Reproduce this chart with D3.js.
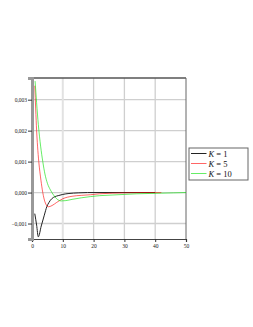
<!DOCTYPE html>
<html>
<head>
<meta charset="utf-8">
<script src="https://cdn.jsdelivr.net/npm/d3@7"></script>
<style>
  body { margin: 0; background: #fff; }
  svg { display: block; }
</style>
</head>
<body>
<div id="chart"></div>
<script>
// values
let xTicks = [0, 10, 20, 30, 40, 50];
let yTicks = [-0.001, 0, 0.001, 0.002, 0.003];

let tK1 = [0.9, 1.5, 2.05, 3, 4, 4.8, 5.5, 6.4, 7.5, 8.5, 10, 12, 15, 18, 25, 40];
let vK1 = [-0.00068, -0.00105, -0.00143, -0.00108, -0.00073, -0.00046, -0.00032, -0.0002, -0.00013, -0.0001, -0.00006, -0.00003, -0.00001, 0, 0, 0];

let tK5 = [0.9, 1.2, 1.5, 1.8, 2.2, 2.9, 3.5, 4.2, 5.3, 6.5, 8, 10, 13, 16, 19, 22, 26, 30, 35, 42];
let vK5 = [0.00345, 0.0027, 0.002, 0.0015, 0.001, 0.0004, 0, -0.0003, -0.00046, -0.00042, -0.00032, -0.0002, -0.00012, -0.00009, -0.00007, -0.00004, -0.00002, -0.00001, 0, 0];

let tK10 = [1, 1.5, 2.05, 2.8, 3.5, 4.2, 5, 6, 7, 8, 9.5, 11, 13, 16, 19, 22, 26, 30, 34, 38, 42, 46, 50];
let vK10 = [0.0036, 0.0029, 0.0022, 0.0015, 0.001, 0.0006, 0.0003, 0.00008, -0.00008, -0.0002, -0.00027, -0.00026, -0.00022, -0.00017, -0.00013, -0.0001, -0.00008, -0.00006, -0.00004, -0.00003, -0.00002, -0.00001, 0];

let seriesNames = ["K = 1", "K = 5", "K = 10"];
let seriesColors = ["#222", "rgba(255,0,0,0.6)", "rgba(0,225,0,0.6)"];

let svgWidth = 253;
let svgHeight = 327;
let margin = { top: 78, right: 67, bottom: 88, left: 32 };
let chartWidth = svgWidth - margin.left - margin.right;
let chartHeight = svgHeight - margin.top - margin.bottom;

let svg = d3.select("#chart")
  .append("svg")
  .attr("width", svgWidth)
  .attr("height", svgHeight);

let chartGroup = svg.append("g")
  .attr("transform", `translate(${margin.left}, ${margin.top})`);

let x = d3.scaleLinear().domain([0, 50]).range([0, chartWidth]);
let y = d3.scaleLinear().domain([-0.0015, 0.0037]).range([chartHeight, 0]);

let fmt = d => d3.format(".3f")(d).replace(".", ",").replace("-", "\u2212");

// grid
chartGroup.selectAll(".hgrid")
  .data(yTicks)
  .enter()
  .append("line")
  .attr("x1", 0).attr("x2", chartWidth)
  .attr("y1", d => y(d)).attr("y2", d => y(d))
  .attr("stroke", "#cfcfcf")
  .attr("stroke-width", 1.3);

chartGroup.selectAll(".vgrid")
  .data(xTicks.filter(d => d > 0 && d < 50))
  .enter()
  .append("line")
  .attr("x1", d => x(d)).attr("x2", d => x(d))
  .attr("y1", 0).attr("y2", chartHeight)
  .attr("stroke", (d, i) => i == 0 ? "#e2e2e2" : "#cfcfcf")
  .attr("stroke-width", (d, i) => i == 0 ? 2 : 1.3);

// frame: top and right
chartGroup.append("line")
  .attr("x1", 0).attr("x2", chartWidth).attr("y1", 0).attr("y2", 0)
  .attr("stroke", "#555").attr("stroke-width", 1.3);
chartGroup.append("line")
  .attr("x1", chartWidth).attr("x2", chartWidth).attr("y1", 0).attr("y2", chartHeight)
  .attr("stroke", "#666").attr("stroke-width", 1);

// axes
let bottomAxis = d3.axisBottom(x).tickValues(xTicks).tickSize(3).tickPadding(2).tickFormat(d3.format("d"));
let leftAxis = d3.axisLeft(y).tickValues(yTicks).tickSize(4).tickPadding(1).tickFormat(fmt);

let xg = chartGroup.append("g")
  .attr("transform", `translate(0, ${chartHeight})`)
  .call(bottomAxis);
let yg = chartGroup.append("g")
  .call(leftAxis);

[xg, yg].forEach(g => {
  g.selectAll("text")
    .attr("font-family", "Liberation Serif, DejaVu Serif, serif")
    .attr("font-size", 5.5)
    .attr("fill", "#222");
  g.selectAll(".tick line").attr("stroke", "#333");
});
xg.select(".domain").attr("stroke", "#444").attr("stroke-width", 1.2);
yg.select(".domain").attr("stroke", "#999").attr("stroke-width", 3);

// curves
let line = d3.line()
  .x(d => x(d[0]))
  .y(d => y(d[1]));

let series = [
  d3.zip(tK1, vK1),
  d3.zip(tK5, vK5),
  d3.zip(tK10, vK10)
];

chartGroup.selectAll(".curve")
  .data(series)
  .enter()
  .append("path")
  .attr("class", "curve")
  .attr("d", d => line.curve(d3.curveMonotoneX)(d))
  .attr("fill", "none")
  .attr("stroke", (d, i) => seriesColors[i])
  .attr("stroke-width", 1);

// legend
let legend = svg.append("g").attr("transform", "translate(189, 148)");
legend.append("rect")
  .attr("x", 0).attr("y", 0)
  .attr("width", 59).attr("height", 32)
  .attr("fill", "#fff")
  .attr("stroke", "#666")
  .attr("stroke-width", 1);

let rows = legend.selectAll(".row")
  .data(seriesNames)
  .enter()
  .append("g")
  .attr("transform", (d, i) => `translate(0, ${5.5 + i * 10})`);

rows.append("line")
  .attr("x1", 2).attr("x2", 17.5)
  .attr("y1", 0).attr("y2", 0)
  .attr("stroke", (d, i) => seriesColors[i])
  .attr("stroke-width", 1);

let labels = rows.append("text")
  .attr("x", 19.5)
  .attr("y", 3)
  .attr("font-family", "Liberation Serif, DejaVu Serif, serif")
  .attr("font-size", 8.5)
  .attr("fill", "#111");
labels.append("tspan").attr("font-style", "italic").text("K");
labels.append("tspan").text(d => d.slice(1));
</script>
</body>
</html>
